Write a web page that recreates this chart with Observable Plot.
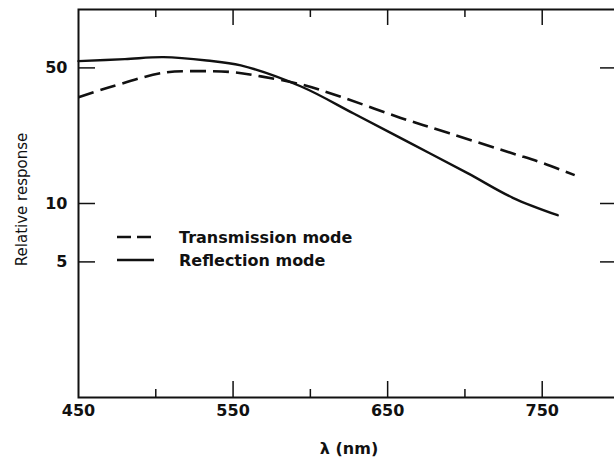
<!DOCTYPE html>
<html>
<head>
<meta charset="utf-8">
<script src="https://cdn.jsdelivr.net/npm/d3@7"></script>
<script src="https://cdn.jsdelivr.net/npm/@observablehq/plot@0.6"></script>
<style>
  html, body { margin: 0; padding: 0; background: #fff; overflow: hidden; }
  #chart svg { overflow: hidden; }
</style>
</head>
<body>
<div id="chart"></div>
<script>
// Transmission mode (dashed)
const transWavelength = [450, 470, 505, 530, 550, 568, 594, 621, 658, 690, 731, 749, 771];
const transResponse   = [35.3, 39.7, 47.2, 48.1, 47.5, 45.2, 41.1, 35.2, 27.7, 23.0, 18.1, 16.3, 14.0];
// Reflection mode (solid)
const reflWavelength = [450, 480, 505, 533, 555, 594, 628, 665, 702, 731, 760];
const reflResponse   = [54.2, 55.5, 56.8, 54.6, 51.5, 40.1, 29.1, 20.4, 14.3, 10.7, 8.7];

const xLabelTicks = [450, 550, 650, 750];
const xMinorTicks = [500, 600, 700];
const xMajorTicks = [550, 650, 750];
const yTicks = [5, 10, 50];
const seriesNames = ["Transmission mode", "Reflection mode"];
const xTitle = "λ (nm)";
const yTitle = "Relative response";

(function () {
const trans = transWavelength.map((x, i) => ({x, y: transResponse[i]}));
const refl = reflWavelength.map((x, i) => ({x, y: reflResponse[i]}));

const W = 614, H = 465;
const fLeft = 78, fRight = 619, fTop = 9, fBottom = 397;
const fw = fRight - fLeft, fh = fBottom - fTop;
const font = "DejaVu Sans, sans-serif";

const chart = Plot.plot({
  width: W,
  height: H,
  marginLeft: fLeft,
  marginRight: W - fRight,
  marginTop: fTop,
  marginBottom: H - fBottom,
  style: {fontFamily: font, background: "#fff", color: "#111"},
  x: {domain: [450, 800], range: [fLeft, fRight], axis: null},
  y: {type: "log", domain: [1, 100], range: [fBottom, fTop], axis: null},
  marks: [
    Plot.frame({stroke: "#111", strokeWidth: 2}),
    // bottom ticks
    Plot.tickX(xMinorTicks, {x: d => d, insetTop: fh - 8, stroke: "#111", strokeWidth: 1.5}),
    Plot.tickX(xMajorTicks, {x: d => d, insetTop: fh - 16, stroke: "#111", strokeWidth: 1.5}),
    // top ticks
    Plot.tickX(xMinorTicks, {x: d => d, insetBottom: fh - 8, stroke: "#111", strokeWidth: 1.5}),
    Plot.tickX(xMajorTicks, {x: d => d, insetBottom: fh - 16, stroke: "#111", strokeWidth: 1.5}),
    // left / right ticks
    Plot.tickY(yTicks, {y: d => d, insetRight: fw - 17, stroke: "#111", strokeWidth: 1.5}),
    Plot.tickY(yTicks, {y: d => d, insetLeft: fw - 19, stroke: "#111", strokeWidth: 1.5}),
    // tick labels
    Plot.text(xLabelTicks, {x: d => d, frameAnchor: "bottom", dy: 18, text: d => String(d),
      fontSize: 16, fontWeight: "bold", fill: "#111"}),
    Plot.text(yTicks, {y: d => d, frameAnchor: "left", dx: -11, textAnchor: "end", text: d => String(d),
      fontSize: 16, fontWeight: "bold", fill: "#111"}),
    // axis titles
    Plot.text([xTitle], {frameAnchor: "bottom", dy: 56, text: d => d, fontSize: 16, fontWeight: "bold", fill: "#111"}),
    Plot.text([yTitle], {frameAnchor: "left", dx: -56, dy: -4, rotate: -90, textAnchor: "middle",
      text: d => d, fontSize: 15, fill: "#111"}),
    // curves
    Plot.line(trans, {x: "x", y: "y", curve: "catmull-rom", stroke: "#111", strokeWidth: 2.6,
      strokeDasharray: "16,7", strokeLinecap: "butt"}),
    Plot.line(refl, {x: "x", y: "y", curve: "catmull-rom", stroke: "#111", strokeWidth: 2.4})
  ]
});

// Legend drawn inside the plot area
const svg = d3.select(chart);
const legend = svg.append("g")
  .attr("font-family", font).attr("font-size", 16).attr("font-weight", "bold")
  .attr("fill", "#111").attr("text-anchor", "start");
const legendRows = [
  {name: seriesNames[0], dash: "14,6", y: 237},
  {name: seriesNames[1], dash: null, y: 260}
];
legendRows.forEach(r => {
  legend.append("line")
    .attr("x1", 117).attr("x2", 154).attr("y1", r.y).attr("y2", r.y)
    .attr("stroke", "#111").attr("stroke-width", 2.4)
    .attr("stroke-dasharray", r.dash);
  legend.append("text")
    .attr("x", 179).attr("y", r.y).attr("dy", "0.35em")
    .text(r.name);
});

document.getElementById("chart").appendChild(chart);
})();
</script>
</body>
</html>
